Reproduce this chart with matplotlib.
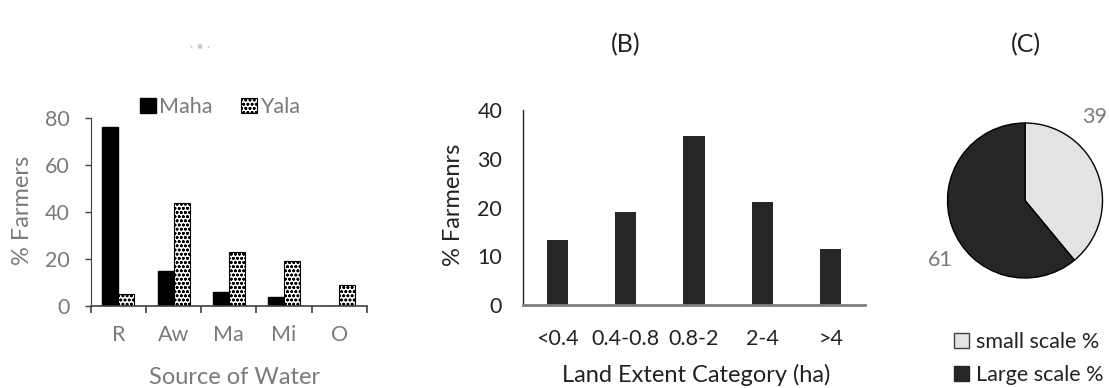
import matplotlib
matplotlib.use("Agg")
import matplotlib.pyplot as plt
import numpy as np
from matplotlib.patches import Patch

plt.rcParams['font.family'] = ['Lato', 'DejaVu Sans']
plt.rcParams['hatch.linewidth'] = 0.8

# Panel A data
sources = ["R", "Aw", "Ma", "Mi", "O"]
maha = [76, 15, 6, 4, 0]
yala = [5, 44, 23, 19, 9]

# Panel B data
land_cats = ["<0.4", "0.4-0.8", "0.8-2", "2-4", ">4"]
land_pct = [13.3, 19.1, 34.7, 21.2, 11.5]

# Panel C data
scale_labels = ["small scale %", "Large scale %"]
scale_vals = [39, 61]

W, H = 1109, 388
fig = plt.figure(figsize=(W/100, H/100), dpi=100)

def rect(l, t, r, b):
    return [l/W, 1 - b/H, (r-l)/W, (b-t)/H]

def fx(px):
    return px / W

def fy(py):
    return 1 - py / H

grey_txt = "#7a7a7a"
dark_txt = "#222222"
TICK = 15.5
LAB = 17

# ---------- Panel A ----------
axA = fig.add_axes(rect(90.7, 118, 367, 306))
x = np.arange(len(sources))
bw = 0.29
axA.bar(x - bw/2, maha, bw, color="black", edgecolor="black", label="Maha")
axA.bar(x + bw/2, yala, bw, color="white", edgecolor="black", hatch="oooo", linewidth=0.8, label="Yala")
axA.set_xlim(-0.5, 4.5)
axA.set_ylim(0, 80)
axA.set_yticks([0, 20, 40, 60, 80])
axA.set_xticks(np.arange(-0.5, 5, 1))
axA.set_xticklabels([])
axA.set_xticks(x, minor=True)
axA.set_xticklabels(sources, minor=True)
axA.tick_params(axis='x', which='major', direction='out', length=5, color="#404040", width=1.2)
axA.tick_params(axis='x', which='minor', length=0, pad=14, labelsize=TICK, labelcolor=grey_txt)
axA.tick_params(axis='y', direction='out', length=4, color="#404040", labelsize=TICK,
                labelcolor=grey_txt, width=1.0, pad=11)
for s in ["top", "right"]:
    axA.spines[s].set_visible(False)
axA.spines["left"].set_color("#404040")
axA.spines["bottom"].set_color("#404040")
axA.spines["bottom"].set_linewidth(1.2)
axA.set_ylabel("% Farmers", fontsize=LAB, color=grey_txt, va="center")
axA.yaxis.set_label_coords((23 - 90.7) / (367 - 90.7), (306 - 210) / (306 - 118))
axA.set_xlabel("Source of Water", fontsize=LAB, color=grey_txt, va="center")
axA.xaxis.set_label_coords((234.5 - 90.7) / (367 - 90.7), (306 - 377) / (306 - 118))
axA.legend(loc="center left", bbox_to_anchor=(fx(140), fy(107)), bbox_transform=fig.transFigure,
           ncol=2, frameon=False, fontsize=TICK, handlelength=0.75, handleheight=0.75,
           handletextpad=0.15, columnspacing=1.3, labelcolor=grey_txt, borderpad=0, borderaxespad=0)
fig.text(fx(200), fy(47), "· • ·", ha="center", va="center", fontsize=9, color="#c8c8c8")

# ---------- Panel B ----------
axB = fig.add_axes(rect(523, 110, 865, 305))
xb = np.arange(len(land_cats))
axB.bar(xb, land_pct, 0.31, color="#262626")
axB.set_xlim(-0.5, 4.5)
axB.set_ylim(0, 40)
axB.set_yticks([0, 10, 20, 30, 40])
axB.set_xticks(xb)
axB.set_xticklabels(land_cats)
axB.tick_params(axis='x', length=0, pad=17, labelsize=TICK, labelcolor=dark_txt)
axB.tick_params(axis='y', length=0, pad=15, labelsize=TICK, labelcolor=dark_txt)
for s in ["top", "right"]:
    axB.spines[s].set_visible(False)
axB.spines["left"].set_color(dark_txt)
axB.spines["left"].set_linewidth(1.0)
axB.spines["bottom"].set_color("#808080")
axB.spines["bottom"].set_linewidth(2.0)
axB.set_ylabel("% Farmenrs", fontsize=LAB, color=dark_txt, va="center")
axB.yaxis.set_label_coords((454 - 523) / (865 - 523), (305 - 205) / (305 - 110))
axB.set_xlabel("Land Extent Category (ha)", fontsize=LAB, color=dark_txt, va="center")
axB.xaxis.set_label_coords((696 - 523) / (865 - 523), (305 - 375) / (305 - 110))
fig.text(fx(626), fy(45), "(B)", ha="center", va="center", fontsize=18, color=dark_txt)

# ---------- Panel C ----------
axC = fig.add_axes(rect(947.5, 123, 1102.5, 278))
axC.pie(scale_vals, colors=["#e3e3e3", "#262626"], startangle=90, counterclock=False,
        wedgeprops=dict(edgecolor="black", linewidth=1.0), radius=1.0)
axC.set_xlim(-1, 1)
axC.set_ylim(-1, 1)
axC.set_aspect("equal")
fig.text(fx(1095), fy(117), str(scale_vals[0]), ha="center", va="center", fontsize=TICK, color=grey_txt)
fig.text(fx(940), fy(260), str(scale_vals[1]), ha="center", va="center", fontsize=TICK, color=grey_txt)
fig.text(fx(1026), fy(45), "(C)", ha="center", va="center", fontsize=18, color=dark_txt)
handles = [Patch(facecolor="#e3e3e3", edgecolor="#404040", label=scale_labels[0]),
           Patch(facecolor="#262626", edgecolor="#262626", label=scale_labels[1])]
fig.legend(handles=handles, loc="upper left", bbox_to_anchor=(fx(954), fy(332)), frameon=False,
           fontsize=TICK, handlelength=0.7, handleheight=0.7, handletextpad=0.3, labelspacing=0.6,
           borderaxespad=0, borderpad=0, labelcolor=dark_txt)

fig.savefig("out.png", dpi=100)
